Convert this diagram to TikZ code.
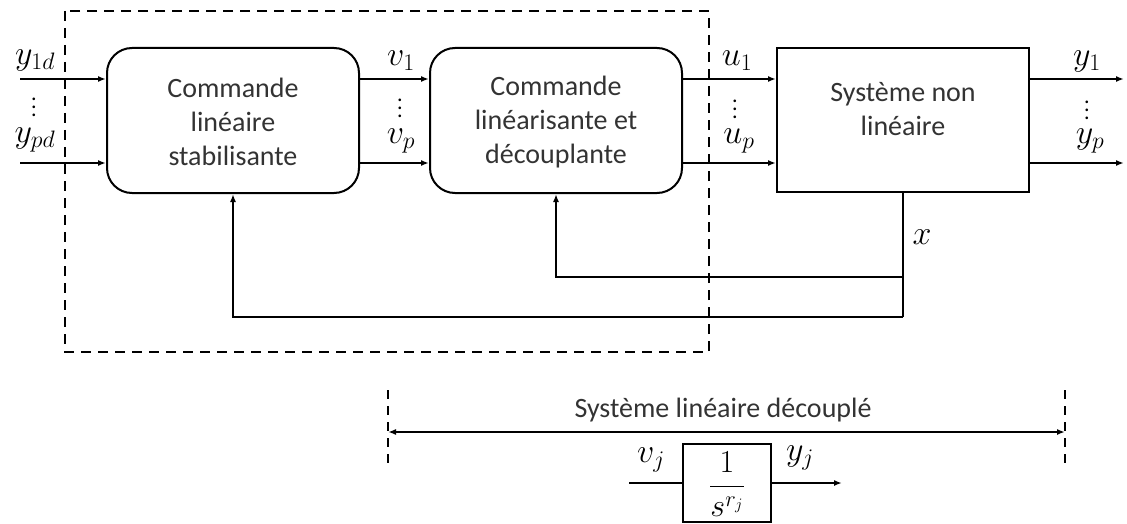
\RequirePackage{fix-cm}
\documentclass[tikz,border=0pt]{standalone}
\usepackage{fontspec}
\setmainfont{Carlito}
\usetikzlibrary{arrows.meta}
\newcommand{\myvdots}{\vbox{\baselineskip=8pt\lineskiplimit=0pt\hbox{.}\hbox{.}\hbox{.}}}
\begin{document}
\begin{tikzpicture}[x=1pt,y=-1pt,
  every node/.style={font=\fontsize{28}{34}\selectfont},
  txt/.style={text=black!80, align=center},
  rbox/.style={draw, line width=2pt, rounded corners=25pt, minimum width=252pt, minimum height=145pt, inner sep=0pt},
  sbox/.style={draw, line width=2pt, minimum width=252pt, minimum height=144pt, inner sep=0pt},
  arr/.style={line width=1.8pt, -{Latex[length=8pt,width=6pt]}},
  ln/.style={line width=1.8pt},
  dsh/.style={line width=2.2pt, dash pattern=on 10pt off 7pt},
  lbl/.style={inner sep=0pt, font=\fontsize{34}{38}\selectfont},
  dots/.style={inner sep=0pt, font=\fontsize{22}{22}\selectfont}
]
\useasboundingbox (0,0) rectangle (1127,524);
% dashed frame
\draw[dsh] (65,11) rectangle (709,352);
% boxes
\node[rbox] (b1) at (233,120.5) {};
\node[txt] (t1) at (233,122) {Commande\\linéaire\\stabilisante};
\node[rbox] (b2) at (556,120.5) {};
\node[txt] (t2) at (556,122) {Commande\\linéarisante et\\découplante};
\node[sbox] (b3) at (903,120) {};
\node[txt] (t3) at (903,109) {Système non\\linéaire};
% rows
\coordinate (r1) at (0,79);
\coordinate (r2) at (0,163);
\coordinate (in1) at (20,79);
\coordinate (in2) at (20,163);
\coordinate (out1) at (1124,79);
\coordinate (out2) at (1124,163);
\draw[arr] (in1) -- (b1.west |- r1);
\draw[arr] (in2) -- (b1.west |- r2);
\draw[arr] (b1.east |- r1) -- (b2.west |- r1);
\draw[arr] (b1.east |- r2) -- (b2.west |- r2);
\draw[arr] (b2.east |- r1) -- (b3.west |- r1);
\draw[arr] (b2.east |- r2) -- (b3.west |- r2);
\draw[arr] (b3.east |- r1) -- (out1);
\draw[arr] (b3.east |- r2) -- (out2);
% labels
\node[lbl] (ly1d) at (35,60) {$y_{1d}$};
\node[dots] (lvd1) at (34,107) {\myvdots};
\node[lbl] (lypd) at (35,140) {$y_{pd}$};
\node[lbl] (lv1) at (401,61) {$v_1$};
\node[dots] (lvd2) at (400,108) {\myvdots};
\node[lbl] (lvp) at (401,141) {$v_p$};
\node[lbl] (lu1) at (737,61) {$u_1$};
\node[dots] (lvd3) at (735,109) {\myvdots};
\node[lbl] (lup) at (739,141) {$u_p$};
\node[lbl] (ly1) at (1087,61) {$y_1$};
\node[dots] (lvd4) at (1087,110) {\myvdots};
\node[lbl] (lyp) at (1090,141) {$y_p$};
% feedback
\coordinate (f1) at (903,277);
\coordinate (f2) at (903,317);
\draw[ln] (b3.south) -- (f2);
\draw[arr] (f1) -| (b2.south);
\draw[arr] (f2) -| (b1.south);
\node[lbl] (lx) at (922,237) {$x$};
% bottom part
\coordinate (dl) at (388,390);
\coordinate (dlb) at (388,467);
\coordinate (dr) at (1065,390);
\coordinate (drb) at (1065,467);
\draw[line width=1.8pt, dash pattern=on 9pt off 7pt] (dl) -- (dlb);
\draw[line width=1.8pt, dash pattern=on 9pt off 7pt] (dr) -- (drb);
\coordinate (al) at (388,432);
\coordinate (ar) at (1065,432);
\draw[line width=1.8pt, {Latex[length=8pt,width=6pt]}-{Latex[length=8pt,width=6pt]}] (al) -- (ar);
\node[txt] (tsl) at (723,410) {Système linéaire découplé};
\node[draw, line width=2pt, minimum width=88pt, minimum height=78pt, inner sep=0pt] (bs) at (727,483) {};
\node[inner sep=0pt, font=\fontsize{32}{34}\selectfont] (tf) at (727,484) {$\displaystyle\frac{1}{s^{r_j}}$};
\coordinate (vin) at (629,483);
\coordinate (yout) at (842,483);
\draw[ln] (vin) -- (bs.west);
\draw[arr] (bs.east) -- (yout);
\node[lbl] (lvj) at (651,460) {$v_j$};
\node[lbl] (lyj) at (800,458) {$y_j$};
\end{tikzpicture}
\end{document}
